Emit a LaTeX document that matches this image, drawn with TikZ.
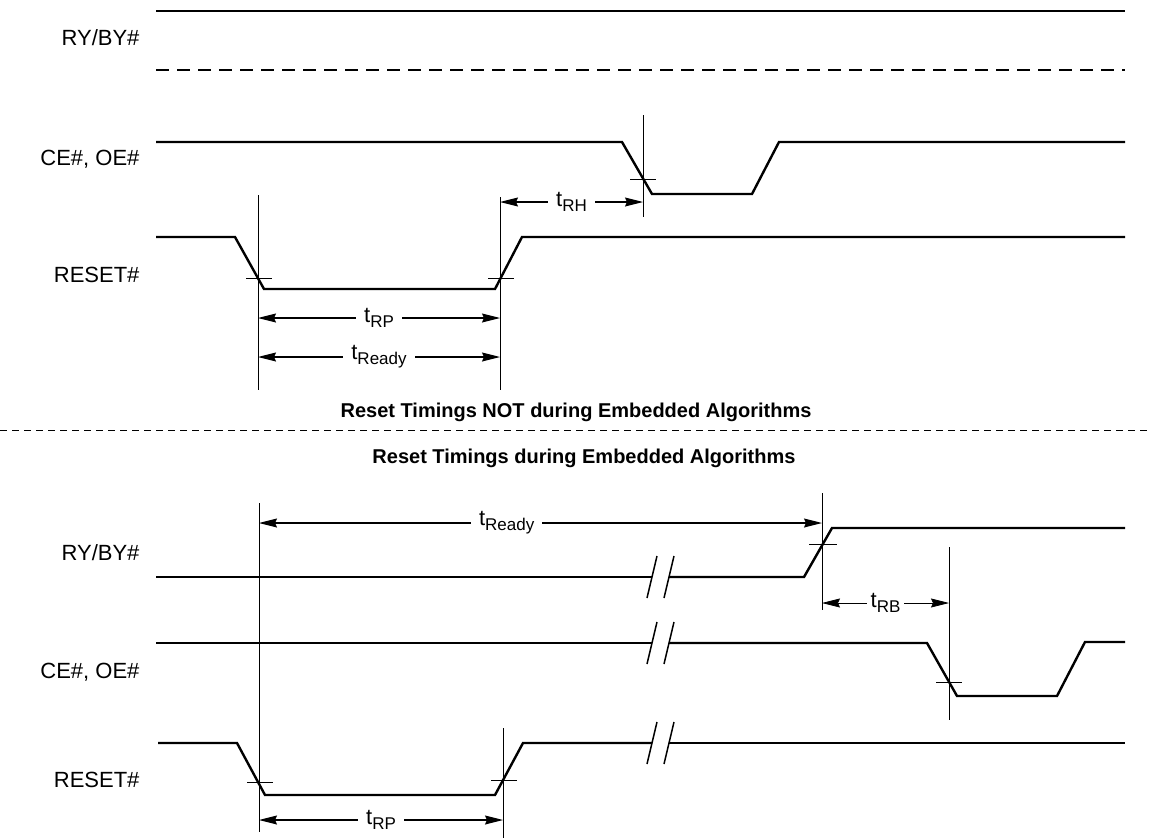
\documentclass[tikz,border=0pt]{standalone}
\usepackage{fontspec}
\setmainfont{Liberation Sans}
\usetikzlibrary{arrows.meta, positioning}

\newcommand{\tsym}[1]{t\raisebox{-5pt}{\fontsize{17}{17}\selectfont #1}}

\begin{document}
\begin{tikzpicture}[
  x=1pt, y=-1pt,
  wave/.style={line width=2.4pt, line join=miter},
  guide/.style={line width=1pt},
  tick/.style={line width=0.8pt},
  dim/.style={{Stealth[length=18pt, width=9pt, inset=2pt]}-{Stealth[length=18pt, width=9pt, inset=2pt]}, line width=1.1pt},
  sig/.style={anchor=east, font=\fontsize{22}{26}\selectfont},
  tlabel/.style={fill=white, inner xsep=8pt, inner ysep=1pt, font=\fontsize{22}{26}\selectfont},
  title/.style={font=\fontsize{20}{24}\selectfont\bfseries},
  brk/.style={line width=1.5pt}
]
\useasboundingbox (0,0) rectangle (1149,838);

% signal names
\node[sig] (ryA) at (143,38) {RY/BY\#};
\node[sig] (ceA) at (143,159) {CE\#, OE\#};
\node[sig] (rstA) at (143,275) {RESET\#};
\node[sig] (ryB) at (143,553) {RY/BY\#};
\node[sig] (ceB) at (143,672) {CE\#, OE\#};
\node[sig] (rstB) at (143,780) {RESET\#};

% --- not during embedded algorithms
\draw[wave] (156,11) -- (1125,11);
\draw[wave, dash pattern=on 13pt off 8pt] (156,70) -- (1125,70);
\draw[wave] (156,142) -- (622,142) -- (652,194) -- (752,194) -- (779,142) -- (1125,142);
\draw[wave] (156,237) -- (235,237) -- (264,289) -- (495,289) -- (522,237) -- (1125,237);

\coordinate (rpA1) at (258,195);
\coordinate (rpA2) at (258,390);
\coordinate (rpB1) at (500,197);
\coordinate (rpB2) at (500,390);
\coordinate (ceX1) at (643,115);
\coordinate (ceX2) at (643,217);
\draw[guide] (rpA1) -- (rpA2);
\draw[guide] (rpB1) -- (rpB2);
\draw[guide] (ceX1) -- (ceX2);
\draw[tick] (246,278) -- (272,278);
\draw[tick] (488,278) -- (514,278);
\draw[tick] (630,179) -- (656,179);

\draw[dim] (rpA1 |- 0,318) -- node[tlabel] (trpA) {\tsym{RP}} (rpB1 |- 0,318);
\draw[dim] (rpA1 |- 0,357) -- node[tlabel] (trdyA) {\tsym{Ready}} (rpB1 |- 0,357);
\draw[dim] (rpB1 |- 0,202) -- node[tlabel] (trh) {\tsym{RH}} (ceX1 |- 0,202);

% titles and separator
\node[title] (ttlA) at (576,412) {Reset Timings NOT during Embedded Algorithms};
\draw[line width=1pt, dash pattern=on 7pt off 5pt] (0,430) -- (1149,430);
\node[title] (ttlB) at (584,458) {Reset Timings during Embedded Algorithms};

% --- during embedded algorithms
\draw[wave] (156,577) -- (652,577);
\draw[wave] (669,577) -- (804,577) -- (832,528) -- (1125,528);
\draw[wave] (156,643) -- (652,643);
\draw[wave] (669,643) -- (927,643) -- (957,696) -- (1057,696) -- (1085,642) -- (1125,642);
\draw[wave] (158,743) -- (237,743) -- (265,795) -- (495,795) -- (523,743) -- (652,743);
\draw[wave] (669,743) -- (1125,743);
\foreach \y in {577,643,743}
  \foreach \x in {652,669}
    \draw[brk] (\x-5,\y+21) -- (\x+5,\y-21);

\coordinate (stA1) at (259,503);
\coordinate (stA2) at (259,832);
\coordinate (ryX1) at (822,493);
\coordinate (ryX2) at (822,610);
\coordinate (ceY1) at (949,547);
\coordinate (ceY2) at (949,720);
\coordinate (stB1) at (503,728);
\coordinate (stB2) at (503,838);
\draw[guide] (stA1) -- (stA2);
\draw[guide] (ryX1) -- (ryX2);
\draw[guide] (ceY1) -- (ceY2);
\draw[guide] (stB1) -- (stB2);
\draw[tick] (247,782) -- (273,782);
\draw[tick] (491,780) -- (517,780);
\draw[tick] (809,544) -- (837,544);
\draw[tick] (936,682) -- (962,682);

\draw[dim] (stA1 |- 0,523) -- node[tlabel, pos=0.44] (trdyB) {\tsym{Ready}} (ryX1 |- 0,523);
\draw[dim, line width=0.7pt] (ryX1 |- 0,603) -- node[tlabel, inner xsep=4pt] (trb) {\tsym{RB}} (ceY1 |- 0,603);
\draw[dim] (stA1 |- 0,820) -- node[tlabel] (trpB) {\tsym{RP}} (stB1 |- 0,820);
\end{tikzpicture}
\end{document}
